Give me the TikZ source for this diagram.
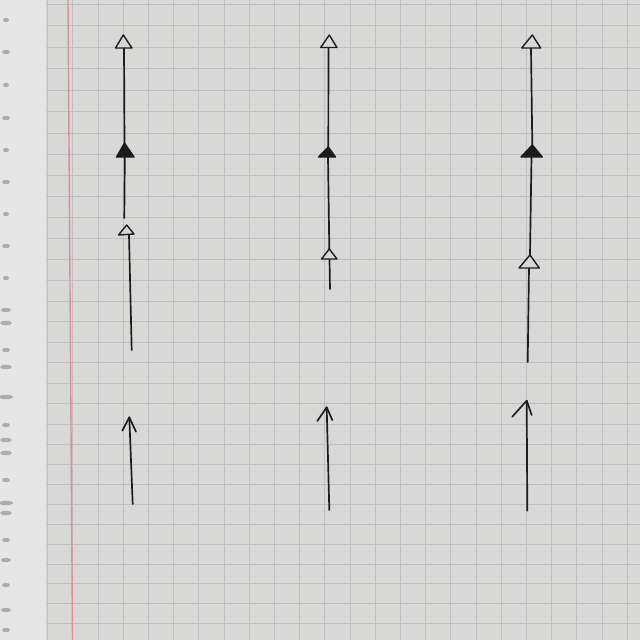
\documentclass[tikz,border=0pt]{standalone}
\definecolor{paper}{RGB}{216,217,215}
\definecolor{strip}{RGB}{229,230,229}
\definecolor{holes}{RGB}{172,174,174}
\definecolor{gridc}{RGB}{188,192,197}
\definecolor{marginc}{RGB}{228,140,148}
\definecolor{ink}{RGB}{28,28,30}
\begin{document}
\begin{tikzpicture}[x=0.025cm,y=-0.025cm,
  shaft/.style={draw=ink,line width=1.2pt,line cap=round},
  opentri/.style={draw=ink,line width=1pt,line join=round,fill=paper},
  filltri/.style={draw=ink,fill=ink,line width=1pt,line join=round},
  gridline/.style={draw=gridc,line width=0.65pt},
  hole/.style={fill=holes}]
\useasboundingbox (0,0) rectangle (640,640);
% paper and torn strip
\fill[paper] (0,0) rectangle (640,640);
\fill[strip] (0,0) rectangle (46,640);
\foreach \yy/\ww in {20/3,52/4,85/3,118/4,150/3,182/4,214/3,246/4,278/3,310/5,323/6,350/4,367/6,397/7,425/4,440/6,453/6,480/4,503/7,513/6,540/4,560/5,585/4,610/5,630/4}{
  \fill[hole] (6,\yy) ellipse ({\ww} and 2.2);
}
% grid
\foreach \k in {0,...,30}{
  \pgfmathsetmacro\yy{4+21.72*\k-0.0361*\k*\k}
  \draw[gridline] (46,\yy) -- (640,\yy);
}
\foreach \k in {-2,...,21}{
  \pgfmathsetmacro\xx{98+25.2*\k}
  \draw[gridline] (\xx,0) -- (\xx,640);
}
\draw[draw=marginc,line width=1pt] (68,0) -- (72.5,640);

% ---------- column 1 ----------
\coordinate (a1) at (123.3,35);   \coordinate (a1b) at (124,48);
\coordinate (f1) at (124.5,143);  \coordinate (f1b) at (124.8,157);
\coordinate (e1) at (124.3,218);
\coordinate (o1) at (126.7,225);  \coordinate (o1b) at (129,235);
\coordinate (s1) at (131.7,350);
\draw[shaft] (a1b) -- (f1);
\draw[shaft] (f1b) -- (e1);
\draw[shaft] (o1b) -- (s1);
\draw[opentri] (115.5,48) -- (a1) -- (132,48) -- cycle;
\draw[filltri] (116.5,157) -- (f1) -- (134,157) -- cycle;
\draw[opentri] (118.5,235) -- (o1) -- (134,234) -- cycle;

% ---------- column 2 ----------
\coordinate (a2) at (329.3,35);   \coordinate (a2b) at (328.5,47);
\coordinate (f2) at (328.3,147);  \coordinate (f2b) at (328,157);
\coordinate (o2) at (329.3,249);  \coordinate (o2b) at (329.5,259);
\coordinate (s2) at (330,289);
\draw[shaft] (a2b) -- (f2);
\draw[shaft] (f2b) -- (o2);
\draw[shaft] (o2b) -- (s2);
\draw[opentri] (320.7,47.5) -- (a2) -- (337,47.5) -- cycle;
\draw[filltri] (318.5,157) -- (f2) -- (335.5,157) -- cycle;
\draw[opentri] (321.5,259) -- (o2) -- (337,259) -- cycle;

% ---------- column 3 ----------
\coordinate (a3) at (532.3,35);   \coordinate (a3b) at (531,48);
\coordinate (f3) at (532.3,145);  \coordinate (f3b) at (531.5,157);
\coordinate (o3) at (530,255);    \coordinate (o3b) at (529,268);
\coordinate (s3) at (527.7,362);
\draw[shaft] (a3b) -- (f3);
\draw[shaft] (f3b) -- (o3);
\draw[shaft] (o3b) -- (s3);
\draw[opentri] (521.7,48) -- (a3) -- (540.7,48) -- cycle;
\draw[filltri] (521,157) -- (f3) -- (542.3,157) -- cycle;
\draw[opentri] (519,268) -- (o3) -- (539.3,268) -- cycle;

% ---------- lower arrows ----------
\coordinate (t4) at (129.3,417.3); \coordinate (b4) at (132.7,504);
\coordinate (l4) at (122.3,430.7); \coordinate (r4) at (136,431.7);
\draw[shaft] (b4) -- (t4);
\draw[shaft,line join=round] (l4) -- (t4) -- (r4);

\coordinate (t5) at (326.7,407.3); \coordinate (b5) at (329.3,510);
\coordinate (l5) at (317.3,421);   \coordinate (r5) at (332.3,420);
\draw[shaft] (b5) -- (t5);
\draw[shaft,line join=round] (l5) -- (t5) -- (r5);

\coordinate (t6) at (526.7,400.7); \coordinate (b6) at (527.3,510.7);
\coordinate (l6) at (512.3,416.7); \coordinate (r6) at (531.7,415);
\draw[shaft] (b6) -- (t6);
\draw[shaft,line join=round] (l6) -- (t6) -- (r6);
\end{tikzpicture}
\end{document}
